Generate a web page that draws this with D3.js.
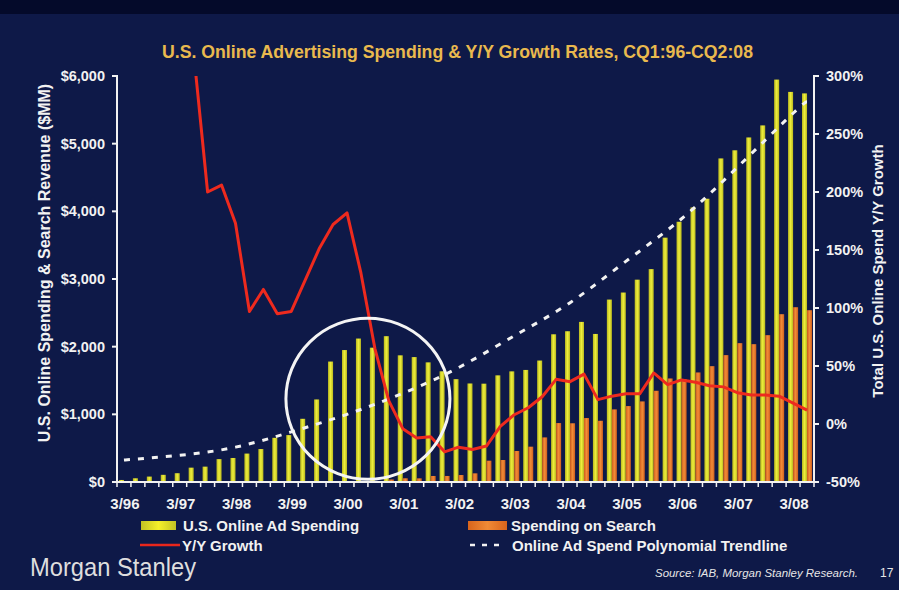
<!DOCTYPE html>
<html>
<head>
<meta charset="utf-8">
<script src="https://cdn.jsdelivr.net/npm/d3@7"></script>
<style>
  html, body { margin: 0; padding: 0; background: #0e1948; }
  svg { display: block; font-family: "Liberation Sans", Arial, Helvetica, sans-serif; }
</style>
</head>
<body>
<svg id="chart" width="899" height="590"></svg>
<script>
// Calendar quarters, labelled by quarter-end month
const quarters = [
  "3/96","6/96","9/96","12/96","3/97","6/97","9/97","12/97",
  "3/98","6/98","9/98","12/98","3/99","6/99","9/99","12/99",
  "3/00","6/00","9/00","12/00","3/01","6/01","9/01","12/01",
  "3/02","6/02","9/02","12/02","3/03","6/03","9/03","12/03",
  "3/04","6/04","9/04","12/04","3/05","6/05","9/05","12/05",
  "3/06","6/06","9/06","12/06","3/07","6/07","9/07","12/07",
  "3/08","6/08"
];

// U.S. online ad spending, $MM per quarter
const adSpending = [
  30, 55, 80, 106, 130, 212, 227, 338,
  355, 420, 487, 653, 693, 934, 1220, 1780,
  1950, 2120, 1985, 2155, 1872, 1846, 1768, 1636,
  1520, 1456, 1453, 1576, 1635, 1656, 1795, 2183,
  2228, 2366, 2188, 2696, 2800, 2990, 3146, 3611,
  3846, 4058, 4186, 4782, 4902, 5092, 5270, 5947,
  5765, 5743
];

// Spending on search, $MM per quarter (none shown before 12/00)
const searchSpending = [
  null, null, null, null, null, null, null, null,
  null, null, null, null, null, null, null, null,
  null, null, null, 37, 55, 54, 89, 89,
  103, 128, 315, 325, 458, 522, 659, 871,
  868, 945, 905, 1073, 1122, 1191, 1348, 1530,
  1520, 1619, 1712, 1875, 2052, 2037, 2170, 2480,
  2583, 2539
];

// Total online spend Y/Y growth, %
const yoyGrowth = [
  null, null, null, null, null, 320, 200, 206,
  173, 97, 116, 95, 97, 124, 151, 172,
  182, 130, 65, 20, -4, -12, -11, -24,
  -20, -22, -19, -2, 8, 14, 23.5, 38.5,
  36.5, 43, 21, 24, 26, 26, 44, 34,
  38, 36, 33, 32, 27, 25, 25, 24,
  18, 12
];

// Polynomial trendline of online ad spend, $MM, sampled at each March quarter
const trendQuarters = ["3/96","3/97","3/98","3/99","3/00","3/01","3/02","3/03","3/04","3/05","3/06","3/07","3/08","6/08"];
const trendValues   = [325, 395, 515, 740, 1000, 1310, 1690, 2160, 2650, 3260, 3890, 4650, 5450, 5620];

const spendTicks  = [0, 1000, 2000, 3000, 4000, 5000, 6000];
const growthTicks = [-50, 0, 50, 100, 150, 200, 250, 300];
const yearTicks   = quarters.filter(q => q.startsWith("3/"));

// Highlighted dot-com peak
const highlight = { from: "6/00", to: "9/00", value: 1230 };

const svg = d3.select("#chart");
const W = 899, H = 590;
const plot = { left: 117, right: 814, top: 76, bottom: 482 };

svg.append("rect").attr("width", W).attr("height", H).attr("fill", "#0e1948");
svg.append("rect").attr("width", W).attr("height", 14).attr("fill", "#040a2a");

const defs = svg.append("defs");
function barGradient(id, edge, mid) {
  const g = defs.append("linearGradient").attr("id", id)
    .attr("x1", "0").attr("x2", "1").attr("y1", "0").attr("y2", "0");
  g.append("stop").attr("offset", "0%").attr("stop-color", edge);
  g.append("stop").attr("offset", "50%").attr("stop-color", mid);
  g.append("stop").attr("offset", "100%").attr("stop-color", edge);
}
barGradient("gYellow", "#b9b81e", "#eeee3c");
barGradient("gOrange", "#cf5d1c", "#f28c38");
defs.append("clipPath").attr("id", "plotClip")
  .append("rect")
  .attr("x", plot.left).attr("y", plot.top)
  .attr("width", plot.right - plot.left).attr("height", plot.bottom - plot.top);

// Scales
const x = d3.scaleBand().domain(quarters)
  .range([plot.left, plot.right]).paddingInner(0.28).paddingOuter(0.14);
const sub = d3.scaleBand().domain(["ad", "search"]).range([0, x.bandwidth()]);
const ySpend = d3.scaleLinear().domain([0, 6000]).range([plot.bottom, plot.top]);
const yGrowth = d3.scaleLinear().domain([-50, 300]).range([plot.bottom, plot.top]);
const cx = q => x(q) + x.bandwidth() / 2;
const gap = (x.step() - x.bandwidth()) / 2;

// Bars
svg.append("g").selectAll("rect").data(quarters).join("rect")
  .attr("x", q => x(q) + sub("ad"))
  .attr("width", sub.bandwidth())
  .attr("y", (q, i) => ySpend(adSpending[i]))
  .attr("height", (q, i) => ySpend(0) - ySpend(adSpending[i]))
  .attr("fill", "url(#gYellow)");

svg.append("g").selectAll("rect")
  .data(quarters.map((q, i) => ({ q, v: searchSpending[i] })).filter(d => d.v != null))
  .join("rect")
  .attr("x", d => x(d.q) + sub("search"))
  .attr("width", sub.bandwidth())
  .attr("y", d => ySpend(d.v))
  .attr("height", d => ySpend(0) - ySpend(d.v))
  .attr("fill", "url(#gOrange)");

// Trendline
const trendLine = d3.line()
  .x(d => cx(d.q)).y(d => ySpend(d.v))
  .curve(d3.curveNatural);
svg.append("path")
  .datum(trendQuarters.map((q, i) => ({ q, v: trendValues[i] })))
  .attr("d", trendLine)
  .attr("fill", "none")
  .attr("stroke", "#f2f2f2")
  .attr("stroke-width", 3)
  .attr("stroke-dasharray", "6,8");

// Y/Y growth line
const growthLine = d3.line()
  .defined(d => d.v != null)
  .x(d => cx(d.q)).y(d => yGrowth(d.v));
svg.append("path")
  .datum(quarters.map((q, i) => ({ q, v: yoyGrowth[i] })))
  .attr("d", growthLine)
  .attr("clip-path", "url(#plotClip)")
  .attr("fill", "none")
  .attr("stroke", "#ee2a1e")
  .attr("stroke-width", 3)
  .attr("stroke-linejoin", "round");

// Highlight ring
svg.append("ellipse")
  .attr("cx", (cx(highlight.from) + cx(highlight.to)) / 2)
  .attr("cy", ySpend(highlight.value))
  .attr("rx", 82).attr("ry", 80.5)
  .attr("fill", "none")
  .attr("stroke", "#f4f4f4")
  .attr("stroke-width", 3);

// Axes
const axisColor = "#f2f2f2";
const tickFont = 14.5;

// left axis
const gl = svg.append("g");
gl.append("line").attr("x1", plot.left).attr("x2", plot.left)
  .attr("y1", plot.top - 1).attr("y2", plot.bottom + 1)
  .attr("stroke", axisColor).attr("stroke-width", 2);
gl.selectAll("line.t").data(spendTicks).join("line").attr("class", "t")
  .attr("x1", plot.left - 5).attr("x2", plot.left)
  .attr("y1", d => ySpend(d)).attr("y2", d => ySpend(d))
  .attr("stroke", axisColor).attr("stroke-width", 2);
gl.selectAll("text").data(spendTicks).join("text")
  .attr("x", plot.left - 12).attr("y", d => ySpend(d) + 5)
  .attr("text-anchor", "end")
  .attr("font-size", tickFont).attr("font-weight", "bold")
  .attr("fill", axisColor)
  .text(d3.format("$,"));

// right axis
const gr = svg.append("g");
gr.append("line").attr("x1", plot.right).attr("x2", plot.right)
  .attr("y1", plot.top - 1).attr("y2", plot.bottom + 1)
  .attr("stroke", axisColor).attr("stroke-width", 2);
gr.selectAll("line.t").data(growthTicks).join("line").attr("class", "t")
  .attr("x1", plot.right).attr("x2", plot.right + 5)
  .attr("y1", d => yGrowth(d)).attr("y2", d => yGrowth(d))
  .attr("stroke", axisColor).attr("stroke-width", 2);
gr.selectAll("text").data(growthTicks).join("text")
  .attr("x", plot.right + 12).attr("y", d => yGrowth(d) + 5)
  .attr("font-size", tickFont).attr("font-weight", "bold")
  .attr("fill", axisColor)
  .text(d => d + "%");

// bottom axis
const gb = svg.append("g");
gb.append("line").attr("x1", plot.left).attr("x2", plot.right)
  .attr("y1", plot.bottom).attr("y2", plot.bottom)
  .attr("stroke", axisColor).attr("stroke-width", 2);
gb.selectAll("line.t").data(quarters.concat(["end"])).join("line").attr("class", "t")
  .attr("x1", q => q === "end" ? plot.right : x(q) - gap)
  .attr("x2", q => q === "end" ? plot.right : x(q) - gap)
  .attr("y1", plot.bottom).attr("y2", plot.bottom + 5)
  .attr("stroke", axisColor).attr("stroke-width", 1.5);
gb.selectAll("text").data(yearTicks).join("text")
  .attr("x", q => cx(q) + 1).attr("y", 509)
  .attr("text-anchor", "middle")
  .attr("font-size", 15).attr("font-weight", "bold")
  .attr("fill", axisColor)
  .text(q => q);

// Axis titles
svg.append("text")
  .attr("transform", "translate(50,263) rotate(-90)")
  .attr("text-anchor", "middle")
  .attr("font-size", 16).attr("font-weight", "bold")
  .attr("fill", axisColor)
  .text("U.S. Online Spending & Search Revenue ($MM)");
svg.append("text")
  .attr("transform", "translate(883,271) rotate(-90)")
  .attr("text-anchor", "middle")
  .attr("font-size", 15).attr("font-weight", "bold")
  .attr("fill", axisColor)
  .text("Total U.S. Online Spend Y/Y Growth");

// Title
svg.append("text")
  .attr("x", 162).attr("y", 58)
  .attr("textLength", 591).attr("lengthAdjust", "spacingAndGlyphs")
  .attr("font-size", 18).attr("font-weight", "bold")
  .attr("fill", "#e9b94e")
  .text("U.S. Online Advertising Spending & Y/Y Growth Rates, CQ1:96-CQ2:08");

// Legend
const lg = svg.append("g").attr("font-size", 15).attr("font-weight", "bold").attr("fill", axisColor);
const swatchGrad = (id, edge, mid) => {
  const g = defs.append("linearGradient").attr("id", id);
  g.append("stop").attr("offset", "0%").attr("stop-color", edge);
  g.append("stop").attr("offset", "50%").attr("stop-color", mid);
  g.append("stop").attr("offset", "100%").attr("stop-color", edge);
};
swatchGrad("lgYellow", "#c2c224", "#f4f02a");
swatchGrad("lgOrange", "#d8641c", "#f08a36");
lg.append("rect").attr("x", 141).attr("y", 521).attr("width", 35).attr("height", 9).attr("fill", "url(#lgYellow)");
lg.append("text").attr("x", 183).attr("y", 531).text("U.S. Online Ad Spending");
lg.append("rect").attr("x", 468).attr("y", 521).attr("width", 39).attr("height", 9).attr("fill", "url(#lgOrange)");
lg.append("text").attr("x", 511).attr("y", 531).text("Spending on Search");
lg.append("line").attr("x1", 140).attr("x2", 180).attr("y1", 545).attr("y2", 545)
  .attr("stroke", "#e8261c").attr("stroke-width", 2.5);
lg.append("text").attr("x", 182).attr("y", 551).text("Y/Y Growth");
lg.append("line").attr("x1", 470).attr("x2", 502).attr("y1", 545).attr("y2", 545)
  .attr("stroke", "#f2f2f2").attr("stroke-width", 2.5).attr("stroke-dasharray", "5,7");
lg.append("text").attr("x", 512).attr("y", 551).text("Online Ad Spend Polynomial Trendline");

// Footer
svg.append("text")
  .attr("x", 30).attr("y", 576)
  .attr("textLength", 166).attr("lengthAdjust", "spacingAndGlyphs")
  .attr("font-family", "\"Liberation Sans Narrow\", \"Liberation Sans\", Arial, sans-serif")
  .attr("font-size", 25)
  .attr("fill", "#dedede")
  .text("Morgan Stanley");
svg.append("text")
  .attr("x", 655).attr("y", 577)
  .attr("textLength", 203).attr("lengthAdjust", "spacingAndGlyphs")
  .attr("font-size", 11.5).attr("font-style", "italic")
  .attr("fill", "#e6e6e6")
  .text("Source: IAB, Morgan Stanley Research.");
svg.append("text")
  .attr("x", 880).attr("y", 577)
  .attr("font-size", 12)
  .attr("fill", "#e6e6e6")
  .text("17");
</script>
</body>
</html>
